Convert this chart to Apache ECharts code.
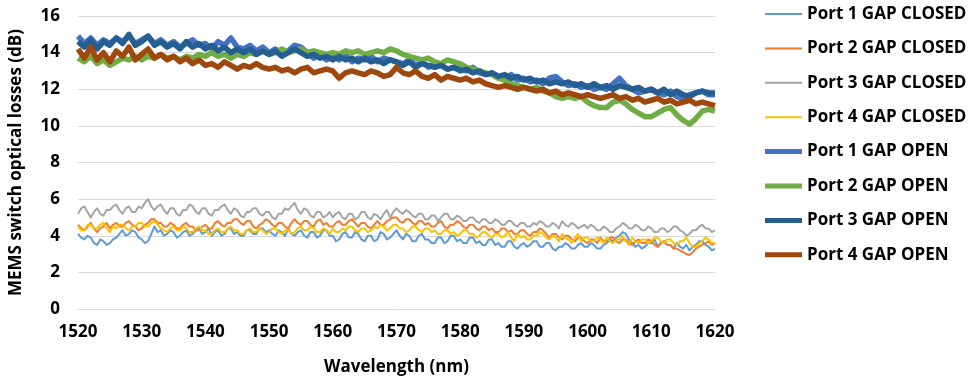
<!DOCTYPE html>
<html><head><meta charset="utf-8">
<script src="https://cdn.jsdelivr.net/npm/echarts@6/dist/echarts.min.js"></script>
<style>html,body{margin:0;padding:0;background:#fff}#c{width:970px;height:382px}</style>
</head><body><div id="c"></div>
<script>
const wavelengthStart = 1520;
const closedStep = 0.5; // nm between samples for GAP CLOSED traces
const openStep = 1;     // nm between samples for GAP OPEN traces
const xTicks = [1520,1530,1540,1550,1560,1570,1580,1590,1600,1610,1620];
const yTicks = [0,2,4,6,8,10,12,14,16];
const seriesNames = ["Port 1 GAP CLOSED","Port 2 GAP CLOSED","Port 3 GAP CLOSED","Port 4 GAP CLOSED","Port 1 GAP OPEN","Port 2 GAP OPEN","Port 3 GAP OPEN","Port 4 GAP OPEN"];

const port1Closed = [
4.1,3.9,3.8,4.0,3.9,3.6,3.5,3.8,3.7,3.5,3.6,3.8,3.9,4.1,4.3,4.0,4.1,4.3,4.2,3.9,
3.8,3.6,3.7,4.1,4.5,4.2,4.3,4.0,4.1,4.3,4.2,3.9,4.0,4.2,4.3,4.0,4.1,4.3,4.4,4.1,
4.2,4.4,4.0,4.2,4.3,4.0,4.1,4.4,4.4,4.1,4.2,4.0,4.0,4.3,4.3,4.1,4.1,4.4,4.4,4.2,
4.3,4.1,4.0,4.3,4.2,4.0,4.4,4.1,4.0,4.2,4.3,4.0,3.9,4.2,4.2,3.9,4.0,4.3,4.3,4.0,
4.0,3.7,3.8,4.1,4.2,3.9,3.9,4.2,4.1,3.8,3.7,4.0,4.0,3.7,3.8,4.2,4.1,3.8,3.9,4.1,
4.3,4.0,3.8,4.1,4.0,3.7,3.7,4.0,4.1,3.8,3.8,3.6,3.6,3.9,3.9,3.6,3.7,4.0,4.0,3.7,
3.8,3.6,3.6,3.9,3.9,3.6,3.7,3.5,3.5,3.8,3.8,3.5,3.6,3.4,3.4,3.7,3.7,3.4,3.3,3.5,
3.6,3.4,3.5,3.7,3.7,3.4,3.4,3.6,3.6,3.3,3.2,3.4,3.4,3.6,3.5,3.3,3.3,3.5,3.6,3.4,
3.4,3.6,3.5,3.3,3.3,3.5,3.6,3.8,3.7,3.9,4.0,4.2,4.1,3.8,3.6,3.4,3.5,3.3,3.4,3.6,
3.6,3.8,3.4,3.6,3.7,3.5,3.5,3.3,3.6,3.4,3.3,3.5,3.2,3.4,3.5,3.7,3.7,3.5,3.4,3.2,
3.3];
const port2Closed = [
4.6,4.4,4.3,4.5,4.7,4.4,4.2,4.4,4.5,4.7,4.4,4.6,4.7,4.5,4.5,4.7,4.8,4.6,4.5,4.3,
4.4,4.6,4.7,4.9,4.9,4.7,4.7,4.5,4.5,4.7,4.6,4.4,4.4,4.6,4.7,4.5,4.5,4.3,4.3,4.5,
4.6,4.4,4.4,4.7,4.8,4.6,4.5,4.7,4.7,4.9,4.9,4.7,4.6,4.8,4.8,4.5,4.4,4.6,4.7,4.9,
4.8,4.6,4.5,4.7,4.7,4.5,4.4,4.7,4.9,4.7,4.6,4.8,4.8,4.6,4.5,4.8,4.9,4.6,4.7,4.5,
4.5,4.7,4.8,4.6,4.6,4.8,4.9,4.7,4.5,4.7,4.7,4.5,4.4,4.6,4.8,4.6,4.6,4.8,4.9,5.0,
5.0,4.8,4.7,4.9,4.9,4.7,4.6,4.8,4.8,4.6,4.7,4.5,4.5,4.7,4.8,4.5,4.4,4.6,4.6,4.8,
4.7,4.5,4.4,4.6,4.6,4.4,4.3,4.5,4.5,4.3,4.4,4.2,4.2,4.4,4.4,4.2,4.3,4.1,4.1,4.3,
4.3,4.1,4.0,4.2,4.2,4.4,4.3,4.1,3.9,4.1,4.1,3.9,3.8,4.0,4.0,3.8,3.7,3.9,3.9,3.7,
3.6,3.8,3.8,3.6,3.9,3.7,3.7,3.9,3.9,3.7,3.6,3.8,3.8,3.6,3.5,3.7,3.8,3.6,3.6,3.8,
3.7,3.5,3.4,3.6,3.7,3.5,3.5,3.3,3.3,3.2,3.1,3.0,2.95,3.1,3.3,3.4,3.5,3.6,3.7,3.5,
3.6];
const port3Closed = [
5.2,5.5,5.6,5.3,5.0,5.3,5.5,5.2,5.1,5.4,5.4,5.6,5.7,5.4,5.2,5.5,5.6,5.3,5.3,5.6,
5.5,5.8,6.0,5.6,5.4,5.6,5.7,5.4,5.2,5.5,5.5,5.2,5.1,5.4,5.4,5.7,5.6,5.3,5.2,5.5,
5.5,5.2,5.1,5.4,5.4,5.6,5.7,5.4,5.2,5.5,5.4,5.1,5.0,5.3,5.3,5.5,5.5,5.2,5.1,5.3,
5.3,5.0,4.9,5.2,5.2,5.5,5.4,5.6,5.8,5.4,5.2,5.5,5.4,5.1,5.0,5.3,5.3,5.0,5.1,5.3,
5.0,5.2,5.3,5.0,4.9,5.2,5.2,4.9,5.0,5.3,5.3,5.0,4.9,5.2,5.1,4.9,5.2,5.4,5.0,5.3,
5.5,5.3,5.2,5.4,5.3,5.1,5.0,5.2,5.2,4.9,4.9,5.1,5.1,4.8,5.0,5.2,5.2,4.9,4.9,5.1,
5.0,4.8,4.8,5.0,5.0,4.8,4.7,4.9,4.9,4.7,4.7,4.9,4.8,4.6,4.6,4.8,4.8,4.6,4.5,4.7,
4.7,4.5,4.5,4.7,4.6,4.8,4.7,4.5,4.5,4.7,4.6,4.4,4.8,4.6,4.5,4.7,4.6,4.4,4.5,4.6,
4.4,4.6,4.5,4.3,4.3,4.5,4.4,4.2,4.2,4.4,4.5,4.7,4.6,4.4,4.4,4.6,4.5,4.3,4.3,4.5,
4.4,4.2,4.2,4.4,4.4,4.2,4.3,4.5,4.5,4.3,4.2,4.0,4.1,4.3,4.3,4.5,4.6,4.4,4.4,4.2,
4.3];
const port4Closed = [
4.5,4.3,4.3,4.6,4.6,4.4,4.4,4.6,4.7,4.4,4.2,4.5,4.4,4.6,4.6,4.4,4.3,4.5,4.5,4.7,
4.7,4.5,4.5,4.7,4.8,4.6,4.4,4.3,4.2,4.4,4.5,4.3,4.3,4.5,4.4,4.2,4.2,4.4,4.5,4.3,
4.3,4.1,4.1,4.3,4.4,4.2,4.2,4.4,4.5,4.3,4.3,4.1,4.1,4.3,4.4,4.2,4.2,4.4,4.3,4.1,
4.2,4.4,4.4,4.2,4.1,4.3,4.3,4.1,4.2,4.4,4.5,4.3,4.3,4.5,4.4,4.2,4.2,4.4,4.3,4.1,
4.4,4.2,4.2,4.4,4.3,4.5,4.5,4.3,4.2,4.4,4.4,4.2,4.3,4.5,4.4,4.6,4.5,4.3,4.4,4.6,
4.6,4.4,4.4,4.2,4.3,4.5,4.5,4.3,4.2,4.4,4.4,4.2,4.3,4.1,4.1,4.3,4.3,4.1,4.2,4.0,
4.1,4.3,4.3,4.1,4.1,3.9,4.0,4.2,4.2,4.0,3.9,4.1,4.1,3.9,4.0,4.2,3.9,3.7,4.1,3.9,
4.0,3.8,3.8,4.0,4.0,4.2,4.1,3.9,3.8,4.0,3.9,3.7,4.1,3.9,3.8,3.6,3.9,4.1,3.7,3.9,
3.9,3.7,3.7,3.9,3.8,3.6,3.9,3.7,3.6,3.8,3.8,4.0,3.7,3.5,3.9,3.7,3.6,3.8,3.8,3.6,
3.7,3.9,3.9,3.7,3.6,3.8,3.8,3.6,3.5,3.7,3.7,3.9,3.6,3.4,3.4,3.6,3.7,3.9,3.8,3.6,
3.6];
const port1Open = [14.9,14.5,14.8,14.4,14.7,14.5,14.8,14.6,14.9,14.5, 14.7,14.9,14.5,14.7,14.4,14.6,14.3,14.5,14.7,14.4, 14.5,14.2,14.6,14.4,14.8,14.3,14.2,14.4,14.1,14.3, 14.0,14.2,13.9,14.1,14.4,14.3,14.0,13.7,13.9,13.6, 13.8,13.6,13.9,13.5,13.7,13.6,13.8,13.5,13.7,13.6, 13.5,13.4,13.6,13.3,13.5,13.2,13.4,13.3,13.1,13.2, 13.1,13.0,13.2,12.9,12.8,12.9,12.7,12.6,12.8,12.5, 12.6,12.4,12.5,12.3,12.6,12.7,12.4,12.2,12.3,12.1, 12.2,12.0,12.1,12.0,12.3,12.6,12.2,12.0,11.8,11.9, 12.0,11.8,11.7,11.9,11.6,11.5,11.7,11.8,11.9,11.7, 11.7];
const port2Open = [13.7,13.5,13.8,13.4,13.6,13.3,13.5,13.7,13.6,13.8, 13.6,13.8,13.7,13.9,13.7,13.8,13.6,13.8,13.7,13.9, 13.8,14.0,13.8,13.9,13.7,13.9,13.8,14.0,13.9,14.1, 13.9,14.0,14.2,14.0,14.1,14.2,14.0,14.1,14.0,13.9, 14.0,13.9,14.1,14.0,14.1,13.9,14.0,14.1,14.0,14.2, 14.1,13.9,13.8,13.7,13.6,13.7,13.5,13.4,13.6,13.5, 13.4,13.2,13.1,13.0,12.9,12.8,12.6,12.5,12.3,12.2, 12.1,12.0,12.1,11.9,11.8,11.6,11.5,11.6,11.5,11.6, 11.3,11.1,11.0,11.0,11.3,11.4,11.2,10.9,10.7,10.5, 10.5,10.7,10.9,11.0,10.6,10.3,10.1,10.4,10.8,10.9, 10.8];
const port3Open = [14.6,14.3,14.7,14.2,14.6,14.4,14.8,14.5,15.0,14.4, 14.6,14.9,14.4,14.6,14.3,14.5,14.2,14.6,14.3,14.5, 14.2,14.4,14.1,14.3,14.0,14.2,14.0,14.2,13.9,14.1, 13.9,14.1,13.8,14.0,14.2,14.0,13.8,13.9,13.7,13.8, 13.6,13.8,13.6,13.7,13.5,13.7,13.5,13.6,13.4,13.6, 13.5,13.3,13.5,13.2,13.4,13.3,13.2,13.3,13.1,13.2, 13.0,13.1,12.9,13.0,12.8,12.9,12.7,12.8,12.6,12.7, 12.5,12.6,12.4,12.5,12.3,12.4,12.3,12.4,12.2,12.3, 12.1,12.3,12.1,12.2,12.0,12.2,12.1,12.0,12.1,11.9, 12.0,11.8,12.0,11.7,11.9,11.7,11.6,11.8,11.9,11.8, 11.8];
const port4Open = [14.2,13.7,14.3,13.6,14.0,13.5,14.1,13.8,14.3,13.6, 13.9,14.2,13.7,13.9,13.6,13.8,13.5,13.7,13.4,13.6, 13.3,13.4,13.2,13.5,13.3,13.1,13.3,13.2,13.4,13.2, 13.1,13.2,13.0,13.1,12.9,13.1,13.2,12.9,13.0,13.1, 13.0,12.6,12.9,13.0,12.9,12.8,13.0,12.9,12.7,12.8, 13.2,12.9,12.8,13.0,12.7,12.6,12.8,12.5,12.7,12.6, 12.5,12.6,12.4,12.5,12.3,12.2,12.1,12.2,12.1,12.0, 12.1,12.0,11.9,12.0,11.8,11.9,11.7,11.8,11.7,11.6, 11.7,11.6,11.5,11.6,11.7,11.5,11.6,11.4,11.5,11.3, 11.4,11.5,11.3,11.4,11.2,11.3,11.4,11.2,11.3,11.2, 11.1];

const allValues = [port1Closed,port2Closed,port3Closed,port4Closed,port1Open,port2Open,port3Open,port4Open];
const steps = [closedStep,closedStep,closedStep,closedStep,openStep,openStep,openStep,openStep];
const colors = ["#5B9BD5","#ED7D31","#A5A5A5","#FFC000","#4472C4","#70AD47","#255E91","#9E480E"];
const widths = [2,2,2,2,5.5,5.5,5.5,5.5];

const FONT = "'Open Sans', 'Liberation Sans', sans-serif";
const chart = echarts.init(document.getElementById('c'), null, {renderer:'canvas'});
chart.setOption({
  animation:false,
  backgroundColor:'#fff',
  grid:{left:75, right:255, top:16, bottom:73},
  xAxis:{type:'value', min:1520, max:1620, interval:10,
    name:'Wavelength (nm)', nameLocation:'middle', nameGap:50,
    nameTextStyle:{fontFamily:FONT, fontWeight:'bold', fontSize:17, color:'#000'},
    axisLine:{show:false}, axisTick:{show:false}, splitLine:{show:false},
    axisLabel:{fontFamily:FONT, fontWeight:'bold', fontSize:17, color:'#000', margin:15,
      formatter:v=>xTicks.includes(v)?String(v):''}},
  yAxis:{type:'value', min:0, max:16, interval:2,
    name:'MEMS switch optical losses (dB)', nameLocation:'middle', nameGap:53,
    nameTextStyle:{fontFamily:FONT, fontWeight:'bold', fontSize:17, color:'#000'},
    axisLine:{show:false}, axisTick:{show:false},
    splitLine:{lineStyle:{color:'#D9D9D9', width:1}},
    axisLabel:{fontFamily:FONT, fontWeight:'bold', fontSize:17, color:'#000', margin:18,
      formatter:v=>yTicks.includes(v)?String(v):''}},
  legend:{orient:'vertical', left:765, top:5, padding:0, itemWidth:37, itemHeight:14, itemGap:16.4,
    data: seriesNames.map((n,i)=>({name:n, icon: widths[i] > 3 ? 'path://M0 0H37V5H0Z' : 'path://M0 0H37V2H0Z'})),
    textStyle:{fontFamily:FONT, fontWeight:'bold', fontSize:17, color:'#000', lineHeight:18}},
  series: seriesNames.map((n,i)=>({
    name:n, type:'line', symbol:'none', showSymbol:false,
    color:colors[i],
    itemStyle:{color:colors[i]},
    lineStyle:{color:colors[i], width:widths[i], join:'round'},
    data: allValues[i].map((v,k)=>[wavelengthStart+k*steps[i], v]),
    z: 2 + i
  }))
});
</script></body></html>
